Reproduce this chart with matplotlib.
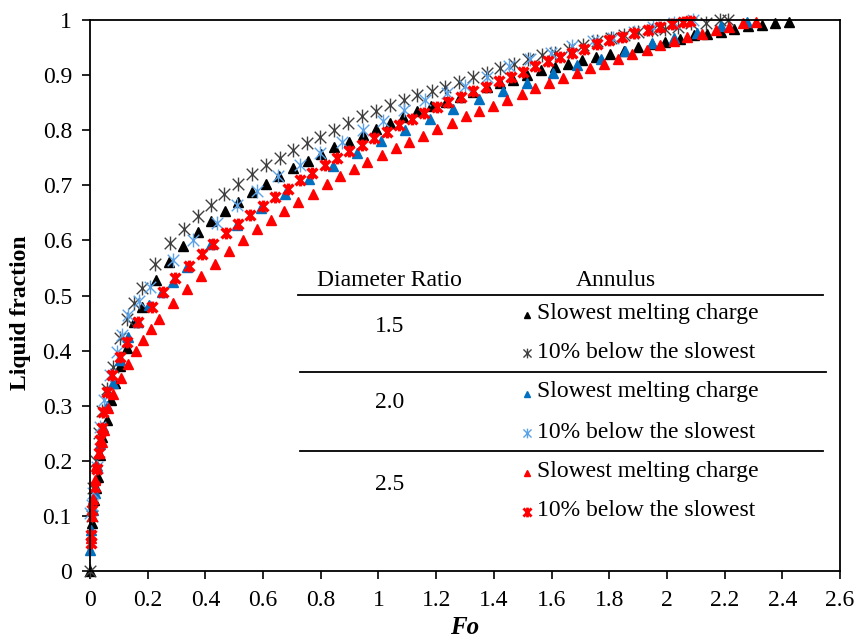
import numpy as np
import matplotlib.pyplot as plt
from matplotlib.path import Path

plt.rcParams['font.family'] = ['Liberation Serif', 'DejaVu Serif']

# Diameter ratio 1.5 - slowest melting charge
fo_15_slow = [0, 0.008, 0.015, 0.022, 0.029, 0.036, 0.043, 0.058, 0.072, 0.087, 0.105,
              0.128, 0.153, 0.179, 0.228, 0.274, 0.323, 0.373, 0.419, 0.468, 0.514, 0.560,
              0.610, 0.656, 0.705, 0.754, 0.800, 0.847, 0.898, 0.945, 0.991, 1.040, 1.086,
              1.132, 1.182, 1.234, 1.282, 1.329, 1.375, 1.421, 1.467, 1.515, 1.563, 1.612,
              1.658, 1.707, 1.754, 1.802, 1.851, 1.898, 1.948, 1.995, 2.045, 2.094, 2.140,
              2.186, 2.232, 2.282, 2.328, 2.374, 2.424]
lf_15_slow = [0, 0.087, 0.129, 0.150, 0.171, 0.210, 0.244, 0.274, 0.310, 0.341, 0.372,
              0.405, 0.452, 0.480, 0.528, 0.560, 0.589, 0.616, 0.636, 0.653, 0.670, 0.687,
              0.702, 0.716, 0.731, 0.744, 0.757, 0.770, 0.779, 0.791, 0.802, 0.813, 0.824,
              0.834, 0.844, 0.852, 0.861, 0.870, 0.878, 0.885, 0.891, 0.900, 0.909, 0.915,
              0.921, 0.927, 0.932, 0.939, 0.944, 0.951, 0.956, 0.960, 0.966, 0.972, 0.975,
              0.978, 0.983, 0.989, 0.991, 0.994, 0.997]

# Diameter ratio 1.5 - 10% below the slowest
fo_15_10 = [0, 0.006, 0.012, 0.020, 0.030, 0.042, 0.058, 0.081, 0.104, 0.127, 0.153,
            0.179, 0.225, 0.277, 0.327, 0.373, 0.419, 0.466, 0.514, 0.560, 0.609, 0.659,
            0.705, 0.753, 0.799, 0.847, 0.895, 0.944, 0.991, 1.040, 1.088, 1.135, 1.184,
            1.230, 1.279, 1.326, 1.375, 1.421, 1.470, 1.517, 1.566, 1.612, 1.661, 1.710,
            1.756, 1.805, 1.851, 1.900, 1.947, 1.993, 2.039, 2.085, 2.137, 2.184, 2.210]
lf_15_10 = [0, 0.100, 0.150, 0.200, 0.250, 0.290, 0.330, 0.371, 0.422, 0.457, 0.486,
            0.514, 0.558, 0.595, 0.620, 0.644, 0.665, 0.685, 0.703, 0.720, 0.736, 0.750,
            0.764, 0.777, 0.788, 0.801, 0.813, 0.825, 0.834, 0.845, 0.854, 0.864, 0.872,
            0.879, 0.888, 0.897, 0.904, 0.912, 0.921, 0.929, 0.936, 0.941, 0.948, 0.955,
            0.961, 0.967, 0.973, 0.978, 0.982, 0.984, 0.988, 0.994, 0.995, 1.0, 1.0]

# Diameter ratio 2.0 - slowest melting charge
fo_20_slow = [0, 0.005, 0.010, 0.017, 0.025, 0.035, 0.045, 0.060, 0.080, 0.104, 0.133,
              0.165, 0.205, 0.250, 0.289, 0.335, 0.419, 0.508, 0.593, 0.676, 0.760, 0.841,
              0.924, 1.009, 1.092, 1.179, 1.260, 1.350, 1.433, 1.516, 1.606, 1.687, 1.773,
              1.854, 1.947, 2.024, 2.103, 2.189, 2.276]
lf_20_slow = [0.038, 0.075, 0.110, 0.141, 0.190, 0.230, 0.262, 0.300, 0.342, 0.383, 0.425,
              0.452, 0.482, 0.507, 0.525, 0.552, 0.593, 0.628, 0.658, 0.685, 0.711, 0.735,
              0.759, 0.780, 0.800, 0.820, 0.838, 0.856, 0.871, 0.886, 0.903, 0.918, 0.930,
              0.944, 0.958, 0.968, 0.977, 0.989, 0.996]

# Diameter ratio 2.0 - 10% below the slowest
fo_20_10 = [0, 0.006, 0.012, 0.023, 0.035, 0.050, 0.070, 0.092, 0.110, 0.133, 0.170,
            0.208, 0.289, 0.358, 0.439, 0.508, 0.578, 0.653, 0.728, 0.799, 0.872, 0.945,
            1.017, 1.088, 1.160, 1.236, 1.300, 1.375, 1.453, 1.525, 1.598, 1.670, 1.745,
            1.814, 1.885, 1.953, 2.025, 2.090]
lf_20_10 = [0.105, 0.120, 0.141, 0.189, 0.262, 0.310, 0.355, 0.398, 0.428, 0.465, 0.490,
            0.516, 0.564, 0.601, 0.631, 0.664, 0.690, 0.716, 0.737, 0.759, 0.779, 0.800,
            0.817, 0.837, 0.855, 0.868, 0.880, 0.897, 0.917, 0.929, 0.940, 0.952, 0.961,
            0.967, 0.978, 0.988, 0.995, 1.0]

# Diameter ratio 2.5 - slowest melting charge
fo_25_slow = [0.004, 0.008, 0.012, 0.016, 0.021, 0.031, 0.040, 0.049, 0.064, 0.081, 0.106,
              0.131, 0.158, 0.185, 0.212, 0.239, 0.289, 0.335, 0.385, 0.433, 0.482, 0.531,
              0.580, 0.627, 0.672, 0.722, 0.772, 0.820, 0.867, 0.915, 0.961, 1.013, 1.060,
              1.107, 1.155, 1.204, 1.254, 1.302, 1.350, 1.398, 1.446, 1.496, 1.543, 1.592,
              1.638, 1.687, 1.735, 1.783, 1.831, 1.880, 1.930, 1.976, 2.024, 2.071, 2.120,
              2.170, 2.216, 2.264, 2.310]
lf_25_slow = [0.060, 0.100, 0.130, 0.165, 0.190, 0.215, 0.235, 0.256, 0.295, 0.321, 0.351,
              0.376, 0.399, 0.419, 0.440, 0.457, 0.486, 0.511, 0.535, 0.558, 0.580, 0.600,
              0.620, 0.637, 0.653, 0.670, 0.685, 0.702, 0.716, 0.729, 0.743, 0.755, 0.767,
              0.778, 0.790, 0.802, 0.813, 0.825, 0.835, 0.844, 0.855, 0.865, 0.876, 0.886,
              0.894, 0.904, 0.913, 0.921, 0.929, 0.938, 0.946, 0.955, 0.962, 0.969, 0.975,
              0.982, 0.988, 0.994, 0.997]

# Diameter ratio 2.5 - 10% below the slowest
fo_25_10 = [0.002, 0.004, 0.008, 0.017, 0.023, 0.030, 0.035, 0.040, 0.046, 0.058, 0.075,
            0.104, 0.127, 0.167, 0.214, 0.254, 0.295, 0.343, 0.387, 0.427, 0.470, 0.512,
            0.555, 0.599, 0.641, 0.685, 0.728, 0.771, 0.815, 0.857, 0.899, 0.944, 0.986,
            1.028, 1.071, 1.115, 1.159, 1.202, 1.242, 1.285, 1.329, 1.372, 1.418, 1.458,
            1.502, 1.543, 1.586, 1.629, 1.672, 1.713, 1.756, 1.799, 1.843, 1.887, 1.933,
            1.976, 2.016, 2.057, 2.080]
lf_25_10 = [0.050, 0.065, 0.110, 0.153, 0.186, 0.215, 0.238, 0.260, 0.289, 0.325, 0.356,
            0.389, 0.416, 0.452, 0.480, 0.507, 0.531, 0.554, 0.575, 0.593, 0.613, 0.630,
            0.647, 0.663, 0.678, 0.694, 0.710, 0.723, 0.737, 0.749, 0.762, 0.773, 0.785,
            0.797, 0.809, 0.820, 0.831, 0.842, 0.851, 0.861, 0.871, 0.879, 0.889, 0.897,
            0.906, 0.916, 0.925, 0.932, 0.941, 0.947, 0.956, 0.963, 0.970, 0.977, 0.982,
            0.987, 0.993, 0.997, 0.999]

xticks = np.arange(0, 2.61, 0.2)
yticks = np.arange(0, 1.01, 0.1)

# excel style star: an x with a vertical bar
star = Path([(-1, -1), (1, 1), (-1, 1), (1, -1), (0, -1.2), (0, 1.2)],
            [Path.MOVETO, Path.LINETO, Path.MOVETO, Path.LINETO, Path.MOVETO, Path.LINETO])

fig = plt.figure(figsize=(8.58, 6.41), dpi=100)
ax = fig.add_axes([90/858, 70/641, 750/858, 551/641])

ax.plot(fo_15_slow, lf_15_slow, '^', color='black', ms=6.5, ls='none', clip_on=False)
ax.plot(fo_15_10, lf_15_10, marker=star, color='#404040', mfc='none', mew=1.0, ms=10, ls='none', clip_on=False)
ax.plot(fo_20_slow, lf_20_slow, '^', color='#0070C0', ms=6.5, ls='none', clip_on=False)
ax.plot(fo_20_10, lf_20_10, marker=star, color='#5BA3E6', mfc='none', mew=1.0, ms=10, ls='none', clip_on=False)
ax.plot(fo_25_slow, lf_25_slow, '^', color='#FF0000', ms=6.5, ls='none', clip_on=False)
ax.plot(fo_25_10, lf_25_10, marker=star, color='#FF0000', mfc='none', mew=2.4, ms=8.5, ls='none', clip_on=False)

ax.set_xlim(0, 2.6)
ax.set_ylim(0, 1)
ax.set_xticks(xticks)
ax.set_yticks(yticks)
ax.set_xticklabels(['%g' % round(v, 1) for v in xticks])
ax.set_yticklabels(['%g' % round(v, 1) for v in yticks])
ax.tick_params(direction='out', length=6, width=1.2, labelsize=17)
ax.tick_params(axis='x', pad=8)
ax.tick_params(axis='y', pad=7)
for s in ax.spines.values():
    s.set_linewidth(1.3)

ax.set_xlabel('Fo', fontsize=18, fontweight='bold', fontstyle='italic')
ax.set_ylabel('Liquid fraction', fontsize=17, fontweight='bold')
ax.xaxis.set_label_coords(0.5, -0.082)
ax.yaxis.set_label_coords(-0.078, 0.468)

# table-like legend, positions in pixels of the figure
def px(x, y):
    return ((x - 90) / 750, (571 - y) / 551)

fs = 17
ax.text(*px(389, 280), 'Diameter Ratio', ha='center', va='center', fontsize=fs, transform=ax.transAxes)
ax.text(*px(616, 280), 'Annulus', ha='center', va='center', fontsize=fs, transform=ax.transAxes)
for y0, x1, x2 in [(295, 298, 823), (372, 300, 826), (451, 300, 823)]:
    a, b = px(x1, y0)
    c, _ = px(x2, y0)
    ax.plot([a, c], [b, b], color='black', lw=1.3, transform=ax.transAxes, clip_on=False)

groups = [('1.5', 326, 313, 352, 'black', '#404040', 1.0),
          ('2.0', 403, 392, 432, '#0070C0', '#5BA3E6', 1.0),
          ('2.5', 485, 471, 511, '#FF0000', '#FF0000', 2.0)]
for lab, yc, y1, y2, c1, c2, mw in groups:
    ax.text(*px(390, yc), lab, ha='center', va='center', fontsize=fs, transform=ax.transAxes)
    ax.plot(*px(527, y1 + 2), '^', color=c1, ms=5, transform=ax.transAxes, clip_on=False)
    ax.text(*px(537, y1), 'Slowest melting charge', ha='left', va='center', fontsize=fs, transform=ax.transAxes)
    ax.plot(*px(527, y2 + 1), marker=star, color=c2, mfc='none', mew=mw, ms=7, transform=ax.transAxes, clip_on=False)
    ax.text(*px(537, y2), '10% below the slowest', ha='left', va='center', fontsize=fs, transform=ax.transAxes)

fig.savefig('out.png', dpi=100)
